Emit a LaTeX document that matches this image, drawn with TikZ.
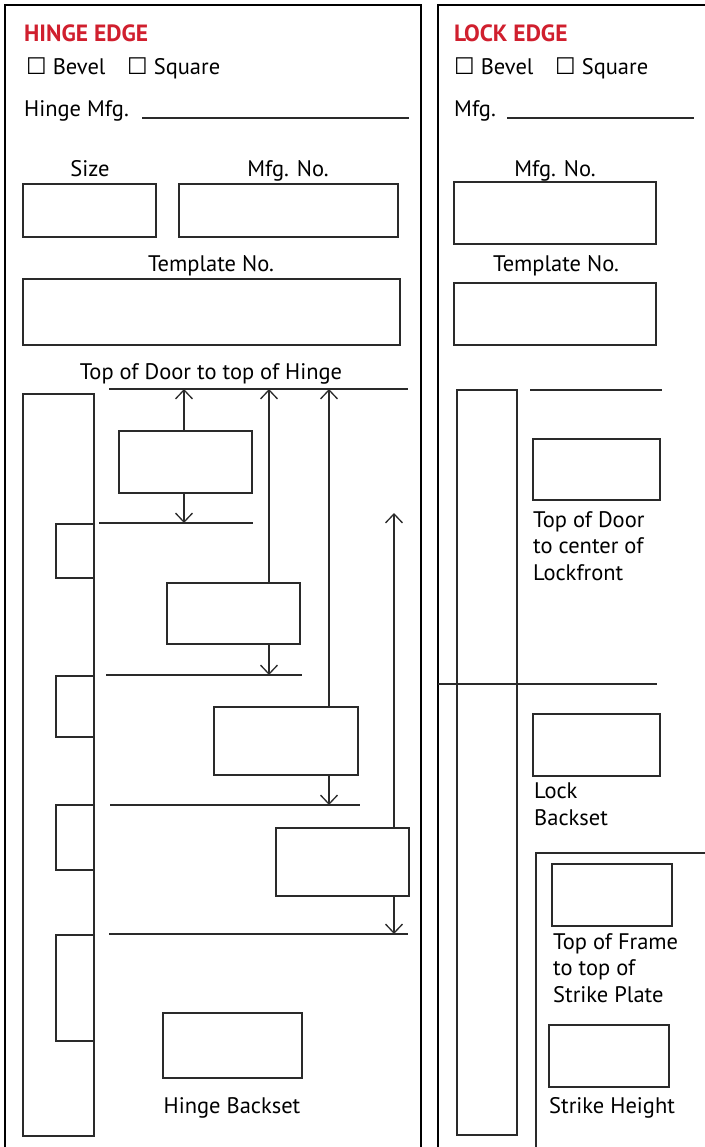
\documentclass[tikz,border=0pt]{standalone}
\usepackage{fontspec}
\setmainfont{PT Sans}
\newfontfamily\tickfont{DejaVu Sans}
\usetikzlibrary{arrows.meta,positioning}
\definecolor{ink}{HTML}{2A2A2A}
\definecolor{edgered}{HTML}{D01F2E}
\tikzset{
  panel/.style={draw=black, line width=2.4pt},
  field/.style={draw=ink, line width=1.3pt, inner sep=0pt, outer sep=0pt, anchor=north west},
  rule/.style={draw=ink, line width=1.3pt},
  dim/.style={draw=ink, line width=1.3pt, -{Straight Barb[length=9pt,width=17pt]}},
  head/.style={text=edgered, font=\fontsize{23.5}{26}\selectfont\bfseries, anchor=base west, inner sep=0pt},
  lab/.style={font=\fontsize{22.5}{26.5}\selectfont, inner sep=0pt, anchor=base},
  labl/.style={lab, anchor=base west},
  note/.style={font=\fontsize{22.5}{26.5}\selectfont, inner sep=0pt, anchor=north west, align=left}
}
\newcommand{\tick}{{\tickfont\fontsize{23}{24}\selectfont ☐}}

\begin{document}
\begin{tikzpicture}[x=1pt, y=-1pt]
  \useasboundingbox (0,0) rectangle (704,1147);

  % two panels
  \draw[panel] (5,1150) -- (5,5) -- (421,5) -- (421,1150);
  \draw[panel] (438,1150) -- (438,5) -- (710,5);

  % hinge edge
  \node[head] (hhead) at (24,42) {HINGE EDGE};
  \node[labl] (hbev) at (26,75) {\tick\ Bevel};
  \node[labl] (hsq) at (127,75) {\tick\ Square};
  \node[labl] (hmfg) at (24,117) {Hinge Mfg.};
  \coordinate (hu1) at (142,118);
  \coordinate (hu2) at (409,118);
  \draw[rule] (hu1) -- (hu2);

  \node[lab] (hsizel) at (90,177) {Size};
  \node[lab] (hnol) at (288,177) {Mfg. No.};
  \node[field, minimum width=133, minimum height=53] (hsize) at (23,184) {};
  \node[field, minimum width=219, minimum height=53] (hno) at (179,184) {};
  \node[lab] (htpll) at (211,272) {Template No.};
  \node[field, minimum width=377, minimum height=66] (htpl) at (23,279) {};

  \node[lab] (htopl) at (211,379) {Top of Door to top of Hinge};
  \coordinate (top1) at (109,389);
  \coordinate (top2) at (408,389);
  \draw[rule] (top1) -- (top2);

  % door edge with hinges
  \node[field, minimum width=71, minimum height=742] (door) at (23,394) {};
  \node[field, minimum width=38, minimum height=54] (hg1) at (56,524) {};
  \node[field, minimum width=38, minimum height=61] (hg2) at (56,676) {};
  \node[field, minimum width=38, minimum height=65] (hg3) at (56,805) {};
  \node[field, minimum width=38, minimum height=106] (hg4) at (56,935) {};

  % dimension boxes
  \node[field, minimum width=133, minimum height=62] (b1) at (119,431) {};
  \node[field, minimum width=133, minimum height=61] (b2) at (167,583) {};
  \node[field, minimum width=144, minimum height=68] (b3) at (214,707) {};
  \node[field, minimum width=133, minimum height=68] (b4) at (276,828) {};

  \coordinate (l2a) at (99,523);  \coordinate (l2b) at (253,523);
  \coordinate (l3a) at (106,675); \coordinate (l3b) at (302,675);
  \coordinate (l4a) at (110,805); \coordinate (l4b) at (360,805);
  \coordinate (l5a) at (109,934); \coordinate (l5b) at (408,934);
  \draw[rule] (l2a) -- (l2b);
  \draw[rule] (l3a) -- (l3b);
  \draw[rule] (l4a) -- (l4b);
  \draw[rule] (l5a) -- (l5b);

  \coordinate (t1) at (184,389);
  \coordinate (t2) at (269,389);
  \coordinate (t3) at (329,389);
  \coordinate (t4) at (394,513);
  \draw[dim] (b1.north -| t1) -- (t1);
  \draw[dim] (b1.south -| t1) -- (t1 |- l2a);
  \draw[dim] (b2.north -| t2) -- (t2);
  \draw[dim] (b2.south -| t2) -- (t2 |- l3a);
  \draw[dim] (b3.north -| t3) -- (t3);
  \draw[dim] (b3.south -| t3) -- (t3 |- l4a);
  \draw[dim] (b4.north -| t4) -- (t4);
  \draw[dim] (b4.south -| t4) -- (t4 |- l5a);

  \node[field, minimum width=139, minimum height=65] (hback) at (163,1013) {};
  \node[lab] (hbackl) at (232,1113) {Hinge Backset};

  % lock edge
  \node[head] (lhead) at (454,42) {LOCK EDGE};
  \node[labl] (lbev) at (454,75) {\tick\ Bevel};
  \node[labl] (lsq) at (555,75) {\tick\ Square};
  \node[labl] (lmfg) at (454,117) {Mfg.};
  \coordinate (lu1) at (507,118);
  \coordinate (lu2) at (694,118);
  \draw[rule] (lu1) -- (lu2);

  \node[lab] (lnol) at (555,177) {Mfg. No.};
  \node[field, minimum width=202, minimum height=62] (lno) at (454,182) {};
  \node[lab] (ltpll) at (556,272) {Template No.};
  \node[field, minimum width=202, minimum height=62] (ltpl) at (454,283) {};

  \node[field, minimum width=60, minimum height=745] (ldoor) at (457,390) {};
  \coordinate (lt1) at (530,390);
  \coordinate (lt2) at (662,390);
  \draw[rule] (lt1) -- (lt2);
  \coordinate (lc1) at (438,684);
  \coordinate (lc2) at (657,684);
  \draw[rule] (lc1) -- (lc2);

  \node[field, minimum width=127, minimum height=61] (lfront) at (533,439) {};
  \node[note] (lfrontl) at (533,511) {Top of Door\\to center of\\Lockfront};
  \node[field, minimum width=127, minimum height=62] (lback) at (533,714) {};
  \node[note] (lbackl) at (534,783) {Lock\\Backset};

  % strike on frame
  \coordinate (fr1) at (536,1150);
  \coordinate (fr2) at (536,853);
  \coordinate (fr3) at (710,853);
  \draw[rule] (fr1) -- (fr2) -- (fr3);
  \node[field, minimum width=120, minimum height=62] (strtop) at (552,864) {};
  \node[note] (strtopl) at (553,933) {Top of Frame\\to top of\\Strike Plate};
  \node[field, minimum width=120, minimum height=62] (strh) at (549,1025) {};
  \node[labl] (strhl) at (549,1113) {Strike Height};
\end{tikzpicture}
\end{document}
